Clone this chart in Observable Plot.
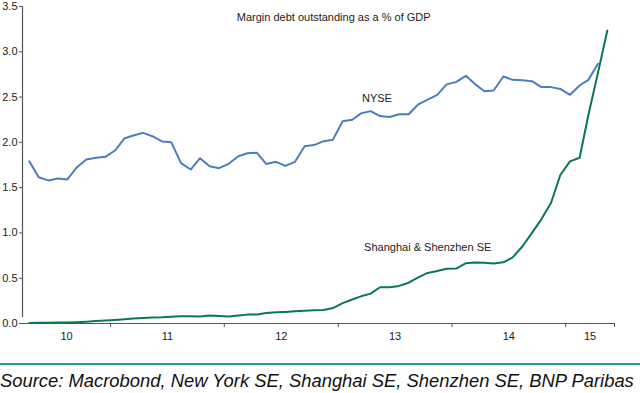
<!DOCTYPE html>
<html>
<head>
<meta charset="utf-8">
<script src="https://cdn.jsdelivr.net/npm/d3@7"></script>
<script src="https://cdn.jsdelivr.net/npm/@observablehq/plot@0.6"></script>
<style>
  html, body { margin: 0; padding: 0; background: #fff; }
  #chart svg { display: block; }
  .caption {
    margin-top: 18px;
    border-top: 2px solid #2a9d8a;
    padding-top: 5px;
    font-family: "Liberation Sans", Arial, sans-serif;
    font-style: italic;
    font-size: 18.4px;
    line-height: 22px;
    color: #111;
    white-space: nowrap;
  }
</style>
</head>
<body>
<div id="chart"></div>
<div class="caption">Source: Macrobond, New York SE, Shanghai SE, Shenzhen SE, BNP Paribas</div>
<script>
// Monthly series, April 2010 onwards
const firstMonth = "2010-04";
const nyse = [1.79, 1.615, 1.58, 1.60, 1.59, 1.726, 1.81, 1.83, 1.84, 1.91,
  2.046, 2.076, 2.105, 2.068, 2.01, 2.00, 1.77, 1.70, 1.825, 1.737,
  1.715, 1.763, 1.847, 1.88, 1.885, 1.76, 1.785, 1.74, 1.785, 1.958,
  1.97, 2.013, 2.03, 2.234, 2.25, 2.32, 2.345, 2.29, 2.28, 2.31,
  2.31, 2.42, 2.473, 2.525, 2.64, 2.668, 2.735, 2.646, 2.565, 2.573,
  2.727, 2.69, 2.687, 2.676, 2.61, 2.61, 2.59, 2.525, 2.628, 2.69,
  2.867];
const china = [0.005, 0.007, 0.008, 0.010, 0.012, 0.015, 0.020, 0.027, 0.034, 0.040,
  0.047, 0.055, 0.062, 0.066, 0.069, 0.075, 0.080, 0.079, 0.077, 0.087,
  0.082, 0.078, 0.088, 0.098, 0.100, 0.115, 0.123, 0.128, 0.134, 0.140,
  0.145, 0.150, 0.170, 0.225, 0.265, 0.300, 0.330, 0.400, 0.400, 0.415,
  0.450, 0.510, 0.558, 0.580, 0.604, 0.606, 0.666, 0.673, 0.670, 0.662,
  0.675, 0.730, 0.850, 1.000, 1.150, 1.330, 1.640, 1.790, 1.830, 2.300,
  2.770, 3.235];
const yTicks = [0, 0.5, 1.0, 1.5, 2.0, 2.5, 3.0, 3.5];
const yearLabels = ["10", "11", "12", "13", "14", "15"];
const labelYears = [2010, 2011, 2012, 2013, 2014, 2015];
const title = "Margin debt outstanding as a % of GDP";
const nyseLabel = "NYSE";
const chinaLabel = "Shanghai & Shenzhen SE";

const [fy, fm] = firstMonth.split("-").map(Number);
const monthDate = i => new Date(Date.UTC(fy, fm - 1 + i, 15));
const nyseData = nyse.map((v, i) => ({date: monthDate(i), value: v}));
const chinaData = china.map((v, i) => ({date: monthDate(i), value: v}));

const domainX = [new Date(Date.UTC(2010, 2, 24)), new Date(Date.UTC(2015, 5, 7))];
const yearStart = y => new Date(Date.UTC(y, 0, 1));
const boundaryTicks = labelYears.slice(1).map(yearStart).concat([domainX[1]]);
const labelPos = labelYears.map(y => {
  const a = Math.max(+yearStart(y), +domainX[0]);
  const b = Math.min(+yearStart(y + 1), +domainX[1]);
  return new Date((a + b) / 2);
});
const labelMap = new Map(labelPos.map((d, i) => [+d, yearLabels[i]]));

const blue = "#4a7ebf";
const green = "#0a7a48";
const axisColor = "#555";

const chart = Plot.plot({
  width: 640,
  height: 345,
  marginLeft: 22,
  marginRight: 26,
  marginTop: 6,
  marginBottom: 22,
  style: {fontFamily: "'Liberation Sans', Arial, sans-serif", fontSize: "11px", color: "#222", background: "#fff"},
  x: {type: "utc", domain: domainX},
  y: {domain: [0, 3.5]},
  marks: [
    Plot.axisY({ticks: yTicks, tickFormat: d3.format(".1f"), tickSize: 3, tickPadding: 2, label: null, stroke: axisColor, fill: "#222"}),
    Plot.axisX({ticks: boundaryTicks, tickFormat: () => "", tickSize: 4, label: null, stroke: axisColor}),
    Plot.axisX({ticks: labelPos, tickFormat: d => labelMap.get(+d), tickSize: 0, tickPadding: 9, label: null, fill: "#222"}),
    Plot.ruleY([0], {stroke: axisColor, strokeWidth: 1.2}),
    Plot.ruleX([domainX[0]], {y1: 0, y2: 3.5, stroke: axisColor, strokeWidth: 1.2, insetTop: -6}),
    Plot.line(nyseData, {x: "date", y: "value", stroke: blue, strokeWidth: 2}),
    Plot.line(chinaData, {x: "date", y: "value", stroke: green, strokeWidth: 2}),
    Plot.text([title], {x: new Date(Date.UTC(2012, 1, 10)), y: 3.378, text: d => d, textAnchor: "start", fill: "#222"}),
    Plot.text([nyseLabel], {x: new Date(Date.UTC(2013, 2, 18)), y: 2.484, text: d => d, textAnchor: "start", fill: "#222"}),
    Plot.text([chinaLabel], {x: new Date(Date.UTC(2013, 2, 25)), y: 0.839, text: d => d, textAnchor: "start", fill: "#222"})
  ]
});
document.getElementById("chart").append(chart);
</script>
</body>
</html>
